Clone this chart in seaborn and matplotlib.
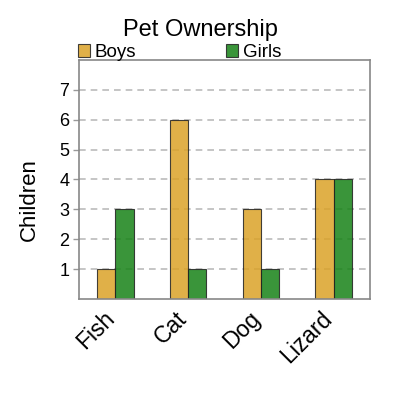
import seaborn as sns
import pandas as pd
import matplotlib.pyplot as plt

pets = ['Fish', 'Cat', 'Dog', 'Lizard']
boys = [1, 6, 3, 4]
girls = [3, 1, 1, 4]

df = pd.DataFrame({
    'pet': pets * 2,
    'kids': boys + girls,
    'group': ['Boys'] * 4 + ['Girls'] * 4,
})

sns.set_style('white')
plt.rcParams['font.family'] = ['Liberation Sans', 'DejaVu Sans']
plt.rcParams['text.color'] = 'black'
plt.rcParams['xtick.color'] = 'black'
plt.rcParams['ytick.color'] = 'black'
plt.rcParams['axes.labelcolor'] = 'black'

fig = plt.figure(figsize=(4, 4), dpi=100)
ax = fig.add_axes([0.1975, 0.2525, 0.7275, 0.5975])

# grid first so bars sit on top
for v in range(1, 8):
    ax.axhline(v, color='#bbbbbb', ls=(0, (4, 3)), lw=1.2, zorder=0)

sns.barplot(data=df, x='pet', y='kids', hue='group', ax=ax,
            palette={'Boys': '#dba228', 'Girls': '#178317'}, saturation=1,
            alpha=0.85, width=0.5, edgecolor='#222222', linewidth=0.8, zorder=2)

ax.set_xlim(-0.5, 3.5)
ax.set_ylim(0, 8)
ax.set_yticks(range(1, 8))
ax.tick_params(axis='y', labelsize=13, length=4, width=1, color='#999999', pad=3, left=True)
ax.tick_params(axis='x', labelsize=16.5, length=0, pad=15)
plt.setp(ax.get_xticklabels(), rotation=45, ha='right', va='baseline', rotation_mode='anchor')
ax.set_xlabel('')
ax.set_ylabel('Children', fontsize=16, labelpad=14)
ax.yaxis.label.set_y(0.414)

for s in ax.spines.values():
    s.set_color('#888888')
    s.set_linewidth(1.2)

ax.legend(loc='lower left', bbox_to_anchor=(-0.005, 0.995), ncol=2, frameon=False,
          fontsize=13.5, handlelength=0.65, handleheight=0.65, handletextpad=0.25,
          columnspacing=4.8, borderpad=0, borderaxespad=0)

fig.suptitle('Pet Ownership', fontsize=17, x=0.5, y=0.952)

fig.savefig('out.png', dpi=100)
